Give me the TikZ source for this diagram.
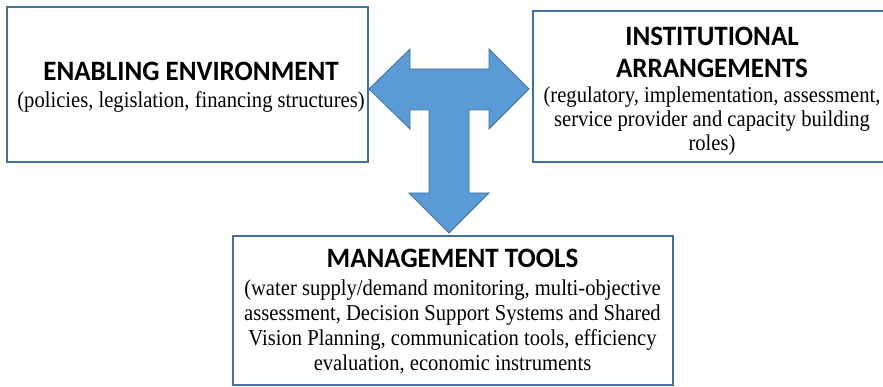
\documentclass[tikz,border=0pt]{standalone}
\usepackage{fontspec}
\usepackage{graphicx}
\setmainfont{Liberation Serif}
\newfontfamily\headfont{Carlito}
\definecolor{boxline}{HTML}{41719C}
\definecolor{arrowfill}{HTML}{5B9BD5}
\newcommand{\tallbody}[1]{\scalebox{1}[1.1]{#1}}
\newcommand{\tallhead}[1]{\scalebox{1}[1.04]{#1}}
\begin{document}
\begin{tikzpicture}[x=1pt,y=-1pt,
  panel/.style={draw=boxline, line width=2.8pt, fill=white, inner sep=0pt, outer sep=0pt, anchor=north west},
  head/.style={font=\headfont\bfseries\fontsize{27}{32}\selectfont, anchor=base, inner sep=0pt},
  body/.style={font=\fontsize{20.6}{24}\selectfont, anchor=base, inner sep=0pt},
  bigarrow/.style={draw=boxline, fill=arrowfill, line width=0.8pt, line join=miter}]
\useasboundingbox (0,0) rectangle (883,387);
\clip (0,0) rectangle (883,387);
% boxes
\node[panel, minimum width=361pt, minimum height=155pt] (env) at (7,7) {};
\node[panel, minimum width=359pt, minimum height=151pt] (inst) at (533,11) {};
\node[panel, minimum width=440pt, minimum height=149pt] (tools) at (233,236) {};
% T-shaped arrow
\draw[bigarrow] (369,89) -- (410,49) -- (410,69) -- (489,69) -- (489,49) -- (529,89)
  -- (489,129) -- (489,110) -- (469,110) -- (469,193) -- (489,193) -- (449,233)
  -- (409,193) -- (429,193) -- (429,110) -- (410,110) -- (410,129) -- cycle;
% texts
\node[head] (envh) at (191,81) {\tallhead{ENABLING ENVIRONMENT}};
\node[body] (envb) at (191,108) {\tallbody{(policies, legislation, financing structures)}};
\node[head] (insth1) at (712,46) {\tallhead{INSTITUTIONAL}};
\node[head] (insth2) at (712,78) {\tallhead{ARRANGEMENTS}};
\node[body] (instb1) at (712,103) {\tallbody{(regulatory, implementation, assessment,}};
\node[body] (instb2) at (712,127) {\tallbody{service provider and capacity building}};
\node[body] (instb3) at (712,151) {\tallbody{roles)}};
\node[head] (toolsh) at (452.5,268) {\tallhead{MANAGEMENT TOOLS}};
\node[body] (toolsb1) at (452.5,295) {\tallbody{(water supply/demand monitoring, multi-objective}};
\node[body] (toolsb2) at (452.5,320) {\tallbody{assessment, Decision Support Systems and Shared}};
\node[body] (toolsb3) at (452.5,345) {\tallbody{Vision Planning, communication tools, efficiency}};
\node[body] (toolsb4) at (452.5,370) {\tallbody{evaluation, economic instruments}};
\end{tikzpicture}
\end{document}
